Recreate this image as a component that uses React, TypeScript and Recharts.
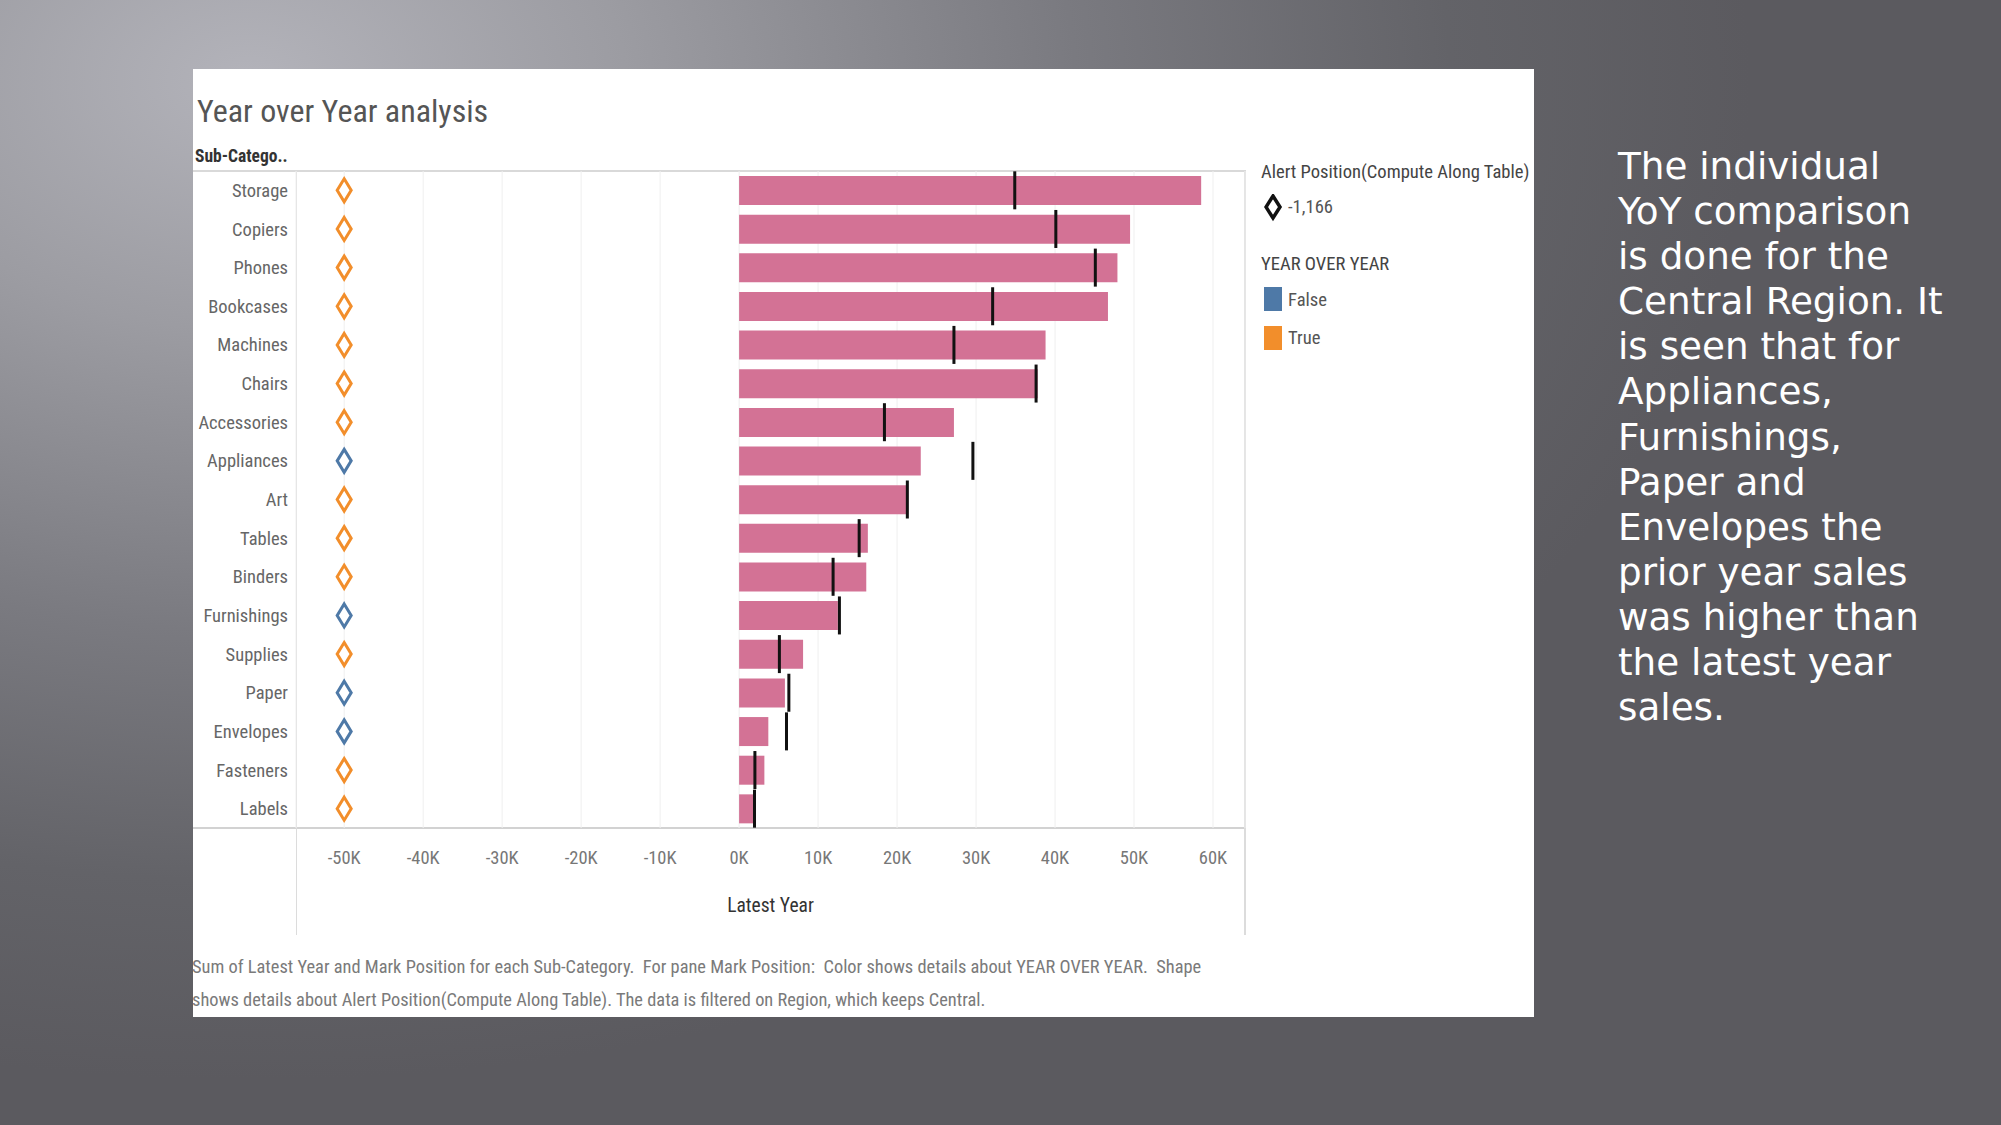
import React from "react";
import { ComposedChart, Bar, Scatter, XAxis, YAxis, CartesianGrid, Label } from "recharts";

const categories = ["Storage", "Copiers", "Phones", "Bookcases", "Machines", "Chairs", "Accessories", "Appliances", "Art", "Tables", "Binders", "Furnishings", "Supplies", "Paper", "Envelopes", "Fasteners", "Labels"];
const latestYear = [58500, 49500, 47900, 46700, 38800, 37800, 27200, 23000, 21400, 16300, 16100, 12500, 8100, 5800, 3700, 3200, 2000];
const priorYear = [34900, 40100, 45100, 32100, 27200, 37600, 18400, 29600, 21300, 15200, 11900, 12700, 5100, 6300, 6000, 2000, 1950];
const markPosition = -50000;
const xTicks = [-50000, -40000, -30000, -20000, -10000, 0, 10000, 20000, 30000, 40000, 50000, 60000];
const xDomain = [-56100, 64050];
const legendAlert = "-1,166";
const legendYoY = ["False", "True"];

const PINK = "#D37295";
const BLUE = "#4E79A7";
const ORANGE = "#F28E2B";
const NARROW = "'Liberation Sans Narrow', 'Arial Narrow', 'Roboto Condensed', sans-serif";

const data = categories.map((name, i) => ({
  name,
  latest: latestYear[i],
  prior: priorYear[i],
  mark: markPosition,
  yoy: latestYear[i] >= priorYear[i],
}));

const PriorMark = (props: any) => {
  const { cx, cy } = props;
  if (cx == null || cy == null) return null;
  return <rect x={cx - 1.5} y={cy - 19} width={3} height={38} fill="#111" />;
};

const DiamondMark = (props: any) => {
  const { cx, cy, payload } = props;
  if (cx == null || cy == null) return null;
  const w = 7, h = 11.5;
  const color = payload && payload.yoy ? ORANGE : BLUE;
  return (
    <polygon
      points={`${cx},${cy - h} ${cx + w},${cy} ${cx},${cy + h} ${cx - w},${cy}`}
      fill="#fff"
      stroke={color}
      strokeWidth={3}
    />
  );
};

const abs = (l: number, t: number, extra: any = {}) => ({ position: "absolute" as const, left: l, top: t, ...extra });

export default function App() {
  return (
    <div
      style={{
        position: "absolute",
        left: 0,
        top: 0,
        width: 2001,
        height: 1125,
        overflow: "hidden",
        background:
          "radial-gradient(ellipse 1500px 1000px at 250px 80px, #b3b3ba 0%, #9c9ca2 25%, #7a7a80 55%, #636368 80%, #5b5a5f 100%)",
      }}
    >
      {/* white panel */}
      <div style={abs(193, 69, { width: 1341, height: 948, background: "#ffffff" })} />

      {/* borders */}
      <div style={abs(193, 170, { width: 1053, height: 2, background: "#d9d9d9" })} />
      <div style={abs(193, 827, { width: 1053, height: 2, background: "#d2d2d2" })} />
      <div style={abs(296, 171, { width: 1, height: 764, background: "#dcdcdc" })} />
      <div style={abs(1244, 171, { width: 2, height: 764, background: "#dcdcdc" })} />

      {/* title */}
      <div style={abs(197, 89, { fontFamily: NARROW, fontSize: 32, color: "#555", lineHeight: "44px", whiteSpace: "nowrap" })}>
        Year over Year analysis
      </div>

      {/* header */}
      <div style={abs(195, 145, { fontFamily: NARROW, fontSize: 17.5, fontWeight: 700, color: "#333", lineHeight: "22px", whiteSpace: "nowrap" })}>
        Sub-Catego..
      </div>

      {/* chart */}
      <div style={abs(0, 0, { width: 1260, height: 950 })}>
        <ComposedChart
          width={1260}
          height={950}
          data={data}
          layout="vertical"
          margin={{ top: 171, right: 15, bottom: 22, left: 196 }}
        >
          <CartesianGrid horizontal={false} vertical={true} stroke="#efefef" />
          <XAxis
            type="number"
            domain={xDomain}
            ticks={xTicks}
            allowDataOverflow={true}
            tickFormatter={(v: number) => `${v / 1000}K`}
            axisLine={false}
            tickLine={false}
            tickMargin={17}
            height={100}
            tick={{ fill: "#777", fontSize: 18.5, fontFamily: NARROW }}
          >
            <Label
              value="Latest Year"
              position="insideBottom"
              offset={16}
              style={{ fill: "#333", fontSize: 19.5, fontFamily: NARROW }}
            />
          </XAxis>
          <YAxis
            type="category"
            dataKey="name"
            width={100}
            axisLine={false}
            tickLine={false}
            interval={0}
            tick={{ fill: "#666", fontSize: 18.5, fontFamily: NARROW }}
          />
          <Bar dataKey="latest" fill={PINK} barSize={29} isAnimationActive={false} />
          <Scatter dataKey="prior" shape={PriorMark} isAnimationActive={false} />
          <Scatter dataKey="mark" shape={DiamondMark} isAnimationActive={false} />
        </ComposedChart>
      </div>

      {/* legend */}
      <div style={abs(1261, 159, { fontFamily: NARROW, fontSize: 18.6, color: "#444", lineHeight: "26px", whiteSpace: "nowrap" })}>
        Alert Position(Compute Along Table)
      </div>
      <svg style={abs(1264, 194)} width={20} height={28}>
        <polygon points="9,2 16,13 9,24 2,13" fill="#fff" stroke="#111" strokeWidth={3.5} />
      </svg>
      <div style={abs(1288, 194, { fontFamily: NARROW, fontSize: 18.6, color: "#555", lineHeight: "26px" })}>{legendAlert}</div>
      <div style={abs(1261, 251, { fontFamily: NARROW, fontSize: 18.6, color: "#444", lineHeight: "26px", whiteSpace: "nowrap" })}>
        YEAR OVER YEAR
      </div>
      <div style={abs(1264, 287, { width: 18, height: 24, background: BLUE })} />
      <div style={abs(1288, 287, { fontFamily: NARROW, fontSize: 18.6, color: "#555", lineHeight: "26px" })}>{legendYoY[0]}</div>
      <div style={abs(1264, 326, { width: 18, height: 24, background: ORANGE })} />
      <div style={abs(1288, 325, { fontFamily: NARROW, fontSize: 18.6, color: "#555", lineHeight: "26px" })}>{legendYoY[1]}</div>

      {/* footer */}
      <div style={abs(192, 950, { fontFamily: NARROW, fontSize: 18.4, color: "#7a7a7a", lineHeight: "33px", whiteSpace: "nowrap" })}>
        <div>Sum of Latest Year and Mark Position for each Sub-Category.&nbsp; For pane Mark Position:&nbsp; Color shows details about YEAR OVER YEAR.&nbsp; Shape</div>
        <div>shows details about Alert Position(Compute Along Table). The data is filtered on Region, which keeps Central.</div>
      </div>

      {/* slide text */}
      <div style={abs(1618, 144, { fontFamily: "'DejaVu Sans', sans-serif", fontSize: 37.3, color: "#ffffff", lineHeight: "45.1px", whiteSpace: "nowrap" })}>
        <div>The individual</div>
        <div>YoY comparison</div>
        <div>is done for the</div>
        <div>Central Region. It</div>
        <div>is seen that for</div>
        <div>Appliances,</div>
        <div>Furnishings,</div>
        <div>Paper and</div>
        <div>Envelopes the</div>
        <div>prior year sales</div>
        <div>was higher than</div>
        <div>the latest year</div>
        <div>sales.</div>
      </div>
    </div>
  );
}
